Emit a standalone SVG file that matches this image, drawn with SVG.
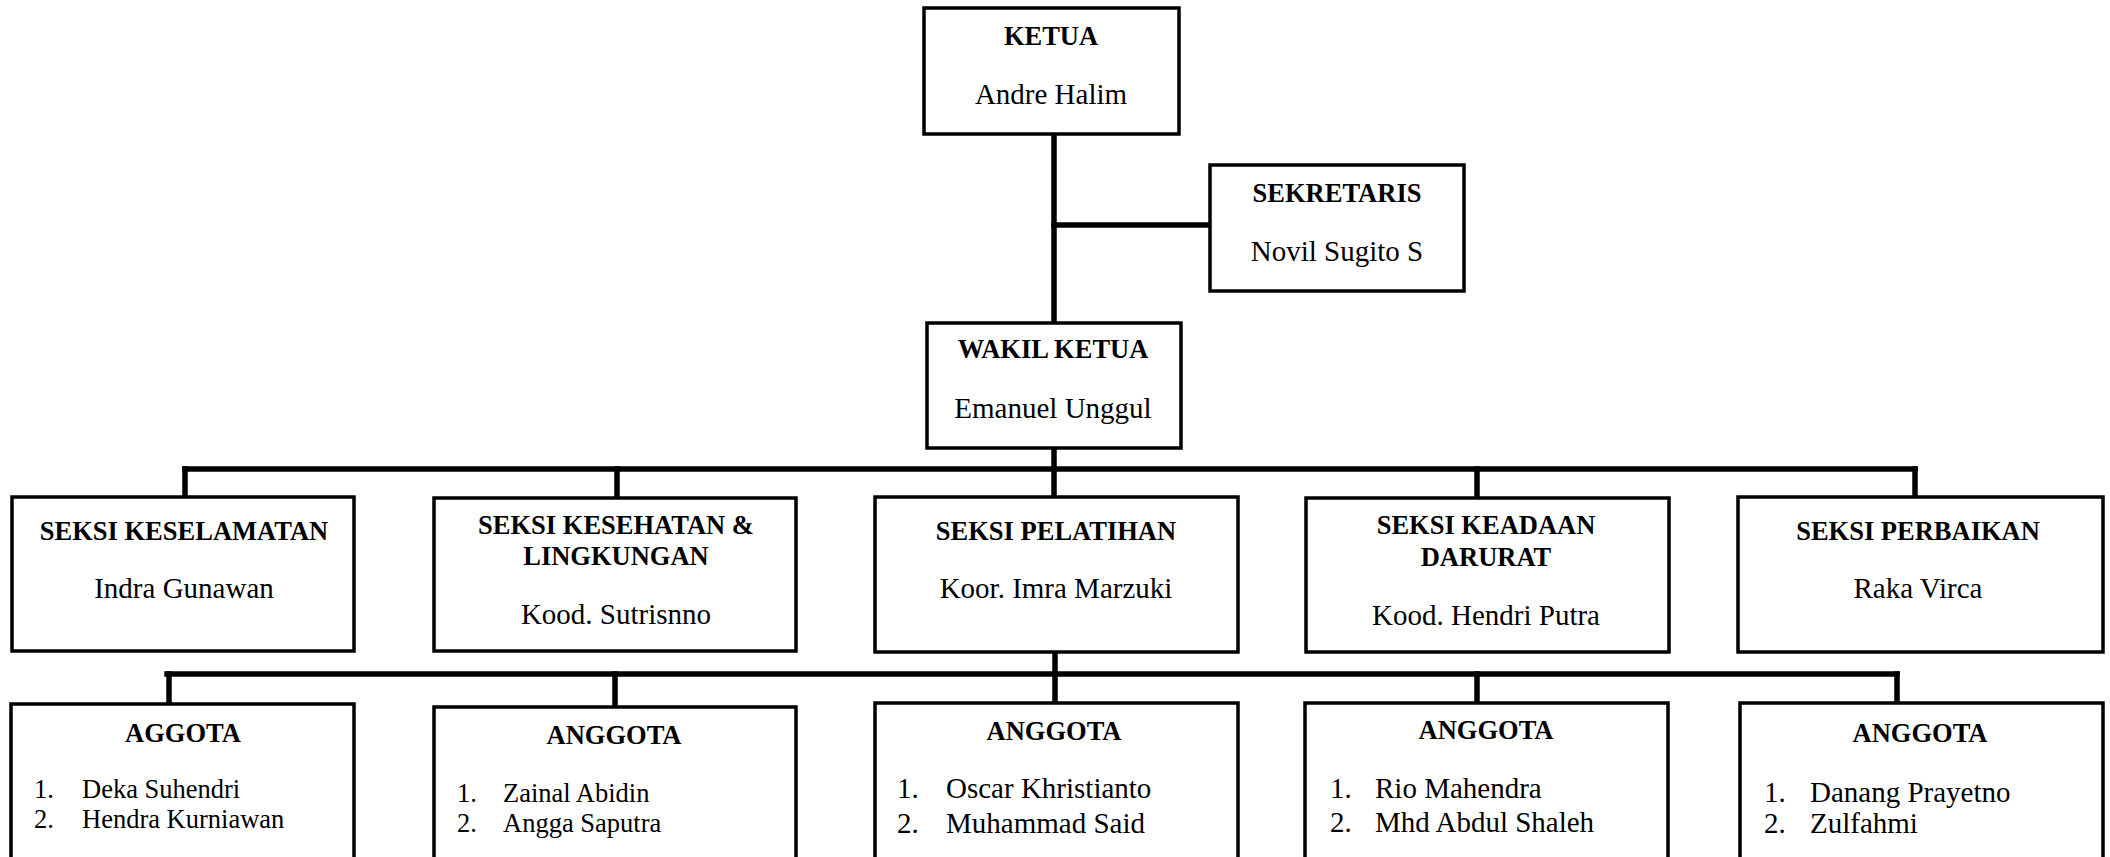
<svg xmlns="http://www.w3.org/2000/svg" width="2110" height="857" viewBox="0 0 2110 857">
  <style>
    .box { fill: #ffffff; stroke: #000000; stroke-width: 3.5; }
    .link { fill: none; stroke: #000000; stroke-width: 5.5; stroke-linecap: square; }
    .h { font-family: "Liberation Serif", "Times New Roman", serif; font-weight: bold; font-size: 26.5px; text-anchor: middle; fill: #000; }
    .n { font-family: "Liberation Serif", "Times New Roman", serif; font-size: 29px; text-anchor: middle; fill: #000; }
    .li { font-family: "Liberation Serif", "Times New Roman", serif; font-size: 29px; fill: #000; }
    .ls { font-family: "Liberation Serif", "Times New Roman", serif; font-size: 26.5px; fill: #000; }
  </style>
  <rect width="2110" height="857" fill="#ffffff"/>

  <!-- connectors -->
  <g id="connectors">
    <line class="link" x1="1054" y1="134" x2="1054" y2="323"/>
    <line class="link" x1="1054" y1="225" x2="1210" y2="225"/>
    <line class="link" x1="1054" y1="448" x2="1054" y2="497"/>
    <line class="link" x1="185" y1="469" x2="1915" y2="469"/>
    <line class="link" x1="185" y1="469" x2="185" y2="497"/>
    <line class="link" x1="617" y1="469" x2="617" y2="498"/>
    <line class="link" x1="1477" y1="469" x2="1477" y2="498"/>
    <line class="link" x1="1915" y1="469" x2="1915" y2="497"/>
    <line class="link" x1="1055" y1="652" x2="1055" y2="703"/>
    <line class="link" x1="167" y1="674" x2="1897" y2="674"/>
    <line class="link" x1="169" y1="674" x2="169" y2="704"/>
    <line class="link" x1="615" y1="674" x2="615" y2="707"/>
    <line class="link" x1="1477" y1="674" x2="1477" y2="703"/>
    <line class="link" x1="1897" y1="674" x2="1897" y2="703"/>
  </g>

  <g id="ketua">
    <rect class="box" x="924" y="8" width="255" height="126"/>
    <text class="h" x="1051" y="45">KETUA</text>
    <text class="n" x="1051" y="104">Andre Halim</text>
  </g>

  <g id="sekretaris">
    <rect class="box" x="1210" y="165" width="254" height="126"/>
    <text class="h" x="1337" y="202">SEKRETARIS</text>
    <text class="n" x="1337" y="261">Novil Sugito S</text>
  </g>

  <g id="wakil-ketua">
    <rect class="box" x="927" y="323" width="254" height="125"/>
    <text class="h" x="1053" y="358">WAKIL KETUA</text>
    <text class="n" x="1053" y="418">Emanuel Unggul</text>
  </g>

  <g id="seksi-keselamatan">
    <rect class="box" x="12" y="497" width="342" height="154"/>
    <text class="h" x="184" y="540">SEKSI KESELAMATAN</text>
    <text class="n" x="184" y="598">Indra Gunawan</text>
  </g>

  <g id="seksi-kesehatan">
    <rect class="box" x="434" y="498" width="362" height="153"/>
    <text class="h" x="616" y="534">SEKSI KESEHATAN &amp;</text>
    <text class="h" x="616" y="565">LINGKUNGAN</text>
    <text class="n" x="616" y="624">Kood. Sutrisnno</text>
  </g>

  <g id="seksi-pelatihan">
    <rect class="box" x="875" y="497" width="363" height="155"/>
    <text class="h" x="1056" y="540">SEKSI PELATIHAN</text>
    <text class="n" x="1056" y="598">Koor. Imra Marzuki</text>
  </g>

  <g id="seksi-keadaan-darurat">
    <rect class="box" x="1306" y="498" width="363" height="154"/>
    <text class="h" x="1486" y="534">SEKSI KEADAAN</text>
    <text class="h" x="1486" y="566">DARURAT</text>
    <text class="n" x="1486" y="625">Kood. Hendri Putra</text>
  </g>

  <g id="seksi-perbaikan">
    <rect class="box" x="1738" y="497" width="365" height="155"/>
    <text class="h" x="1918" y="540">SEKSI PERBAIKAN</text>
    <text class="n" x="1918" y="598">Raka Virca</text>
  </g>

  <g id="anggota-keselamatan">
    <rect class="box" x="11" y="704" width="343" height="170"/>
    <text class="h" x="183" y="742">AGGOTA</text>
    <text class="ls" x="34" y="798">1.</text>
    <text class="ls" x="82" y="798">Deka Suhendri</text>
    <text class="ls" x="34" y="828">2.</text>
    <text class="ls" x="82" y="828">Hendra Kurniawan</text>
  </g>

  <g id="anggota-kesehatan">
    <rect class="box" x="434" y="707" width="362" height="170"/>
    <text class="h" x="614" y="744">ANGGOTA</text>
    <text class="ls" x="457" y="802">1.</text>
    <text class="ls" x="503" y="802">Zainal Abidin</text>
    <text class="ls" x="457" y="832">2.</text>
    <text class="ls" x="503" y="832">Angga Saputra</text>
  </g>

  <g id="anggota-pelatihan">
    <rect class="box" x="875" y="703" width="363" height="170"/>
    <text class="h" x="1054" y="740">ANGGOTA</text>
    <text class="li" x="897" y="798">1.</text>
    <text class="li" x="946" y="798">Oscar Khristianto</text>
    <text class="li" x="897" y="833">2.</text>
    <text class="li" x="946" y="833">Muhammad Said</text>
  </g>

  <g id="anggota-keadaan-darurat">
    <rect class="box" x="1305" y="703" width="363" height="170"/>
    <text class="h" x="1486" y="739">ANGGOTA</text>
    <text class="li" x="1330" y="798">1.</text>
    <text class="li" x="1375" y="798">Rio Mahendra</text>
    <text class="li" x="1330" y="832">2.</text>
    <text class="li" x="1375" y="832">Mhd Abdul Shaleh</text>
  </g>

  <g id="anggota-perbaikan">
    <rect class="box" x="1740" y="703" width="363" height="170"/>
    <text class="h" x="1920" y="742">ANGGOTA</text>
    <text class="li" x="1764" y="802">1.</text>
    <text class="li" x="1810" y="802">Danang Prayetno</text>
    <text class="li" x="1764" y="833">2.</text>
    <text class="li" x="1810" y="833">Zulfahmi</text>
  </g>
</svg>
